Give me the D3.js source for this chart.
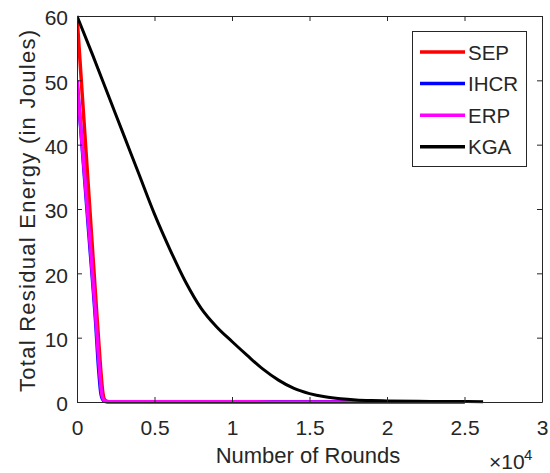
<!DOCTYPE html>
<html><head><meta charset="utf-8">
<script src="https://cdn.jsdelivr.net/npm/d3@7"></script>
<style>body{margin:0;background:#fff}svg{display:block}text{font-family:"Liberation Sans",Arial,sans-serif;fill:#262626}</style>
</head><body><svg id="c" width="550" height="473"></svg>
<script>
const seriesNames = ["SEP", "IHCR", "ERP", "KGA"];
const seriesColors = ["#ff0000", "#0000ff", "#ff00ff", "#000000"];
const sepRounds = [0, 400, 800, 1200, 1500, 1650, 1750, 1900, 2200, 25000];
const sepValues = [60, 45.5, 31, 16.5, 6, 1.8, 0.5, 0.12, 0.02, 0];
const ihcrRounds = [0, 400, 800, 1200, 1400, 1550, 1700, 1900, 25000];
const ihcrValues = [50, 37.5, 25, 12.5, 5, 1.2, 0.25, 0.05, 0];
const erpRounds = [0, 400, 800, 1200, 1450, 1600, 1750, 2000, 25000];
const erpValues = [50, 38, 26, 13.5, 5, 1.2, 0.25, 0.05, 0];
const kgaRounds = [0, 1000, 2000, 3000, 4000, 5000, 6000, 7000, 8000, 9000, 10000, 11000, 12000, 13000, 14000, 15000, 16000, 17000, 18000, 19000, 20000, 22000, 24000, 26200];
const kgaValues = [60, 54, 47.8, 41.6, 35.4, 29.2, 23.7, 18.7, 14.6, 11.7, 9.4, 7.2, 5.1, 3.4, 2.1, 1.3, 0.8, 0.5, 0.32, 0.22, 0.16, 0.1, 0.07, 0.05];
const xTicks = [0, 5000, 10000, 15000, 20000, 25000, 30000];
const xTickLabels = ["0", "0.5", "1", "1.5", "2", "2.5", "3"];
const yTicks = [0, 10, 20, 30, 40, 50, 60];

const svg = d3.select("#c");
const L = 77, R = 542, T = 16, B = 402;
const x = d3.scaleLinear().domain([0, 30000]).range([L, R]);
const y = d3.scaleLinear().domain([0, 60]).range([B, T]);
const axisColor = "#262626";

svg.append("clipPath").attr("id", "clip").append("rect").attr("x", L).attr("y", T - 2).attr("width", R - L).attr("height", B - T + 4);

const data = [
  sepRounds.map((r, i) => [r, sepValues[i]]),
  ihcrRounds.map((r, i) => [r, ihcrValues[i]]),
  erpRounds.map((r, i) => [r, erpValues[i]]),
  kgaRounds.map((r, i) => [r, kgaValues[i]])
];
const line = d3.line().x(d => x(d[0])).y(d => y(d[1])).curve(d3.curveMonotoneX);
const widths = [3.5, 3.5, 3.5, 3];
const g = svg.append("g").attr("clip-path", "url(#clip)");
data.forEach((d, i) => {
  g.append("path").attr("d", line(d)).attr("fill", "none").attr("stroke", seriesColors[i]).attr("stroke-width", widths[i]).attr("stroke-linejoin", "round");
});

const fs = "21px";
const ax = svg.append("g").attr("transform", `translate(0,${B})`).call(d3.axisBottom(x).tickValues(xTicks).tickFormat((d, i) => xTickLabels[i]).tickSizeInner(-5).tickSizeOuter(0).tickPadding(18));
const axT = svg.append("g").attr("transform", `translate(0,${T})`).call(d3.axisTop(x).tickValues(xTicks).tickFormat("").tickSizeInner(-5).tickSizeOuter(0));
const ay = svg.append("g").attr("transform", `translate(${L},0)`).call(d3.axisLeft(y).tickValues(yTicks).tickSizeInner(-5).tickSizeOuter(0).tickPadding(9));
const ayR = svg.append("g").attr("transform", `translate(${R},0)`).call(d3.axisRight(y).tickValues(yTicks).tickFormat("").tickSizeInner(-5).tickSizeOuter(0));
[ax, axT, ay, ayR].forEach(a => {
  a.selectAll("path.domain").attr("stroke", axisColor).attr("stroke-width", 1);
  a.selectAll("line").attr("stroke", axisColor);
  a.selectAll("text").style("font-size", fs).attr("fill", axisColor);
});
ay.selectAll("text").attr("dy", "0.42em");

svg.append("text").attr("x", 308).attr("y", 463).attr("text-anchor", "middle").style("font-size", "22px").text("Number of Rounds");
svg.append("text").attr("transform", `translate(35,${211}) rotate(-90)`).attr("text-anchor", "middle").style("font-size", "22px")
  .attr("textLength", 362).attr("lengthAdjust", "spacing").text("Total Residual Energy (in Joules)");
svg.append("text").attr("x", 489).attr("y", 469).style("font-size", "21px").text("\u00d710");
svg.append("text").attr("x", 524).attr("y", 460).style("font-size", "15px").text("4");

const lg = svg.append("g");
lg.append("rect").attr("x", 412.5).attr("y", 31.5).attr("width", 114).attr("height", 135).attr("fill", "#fff").attr("stroke", axisColor).attr("stroke-width", 1);
seriesNames.forEach((n, i) => {
  const yy = 52 + i * 31.6;
  lg.append("line").attr("x1", 420).attr("x2", 465).attr("y1", yy).attr("y2", yy).attr("stroke", seriesColors[i]).attr("stroke-width", 3.5);
  lg.append("text").attr("x", 468).attr("y", yy + 7.5).style("font-size", "20.5px").text(n);
});
</script></body></html>
